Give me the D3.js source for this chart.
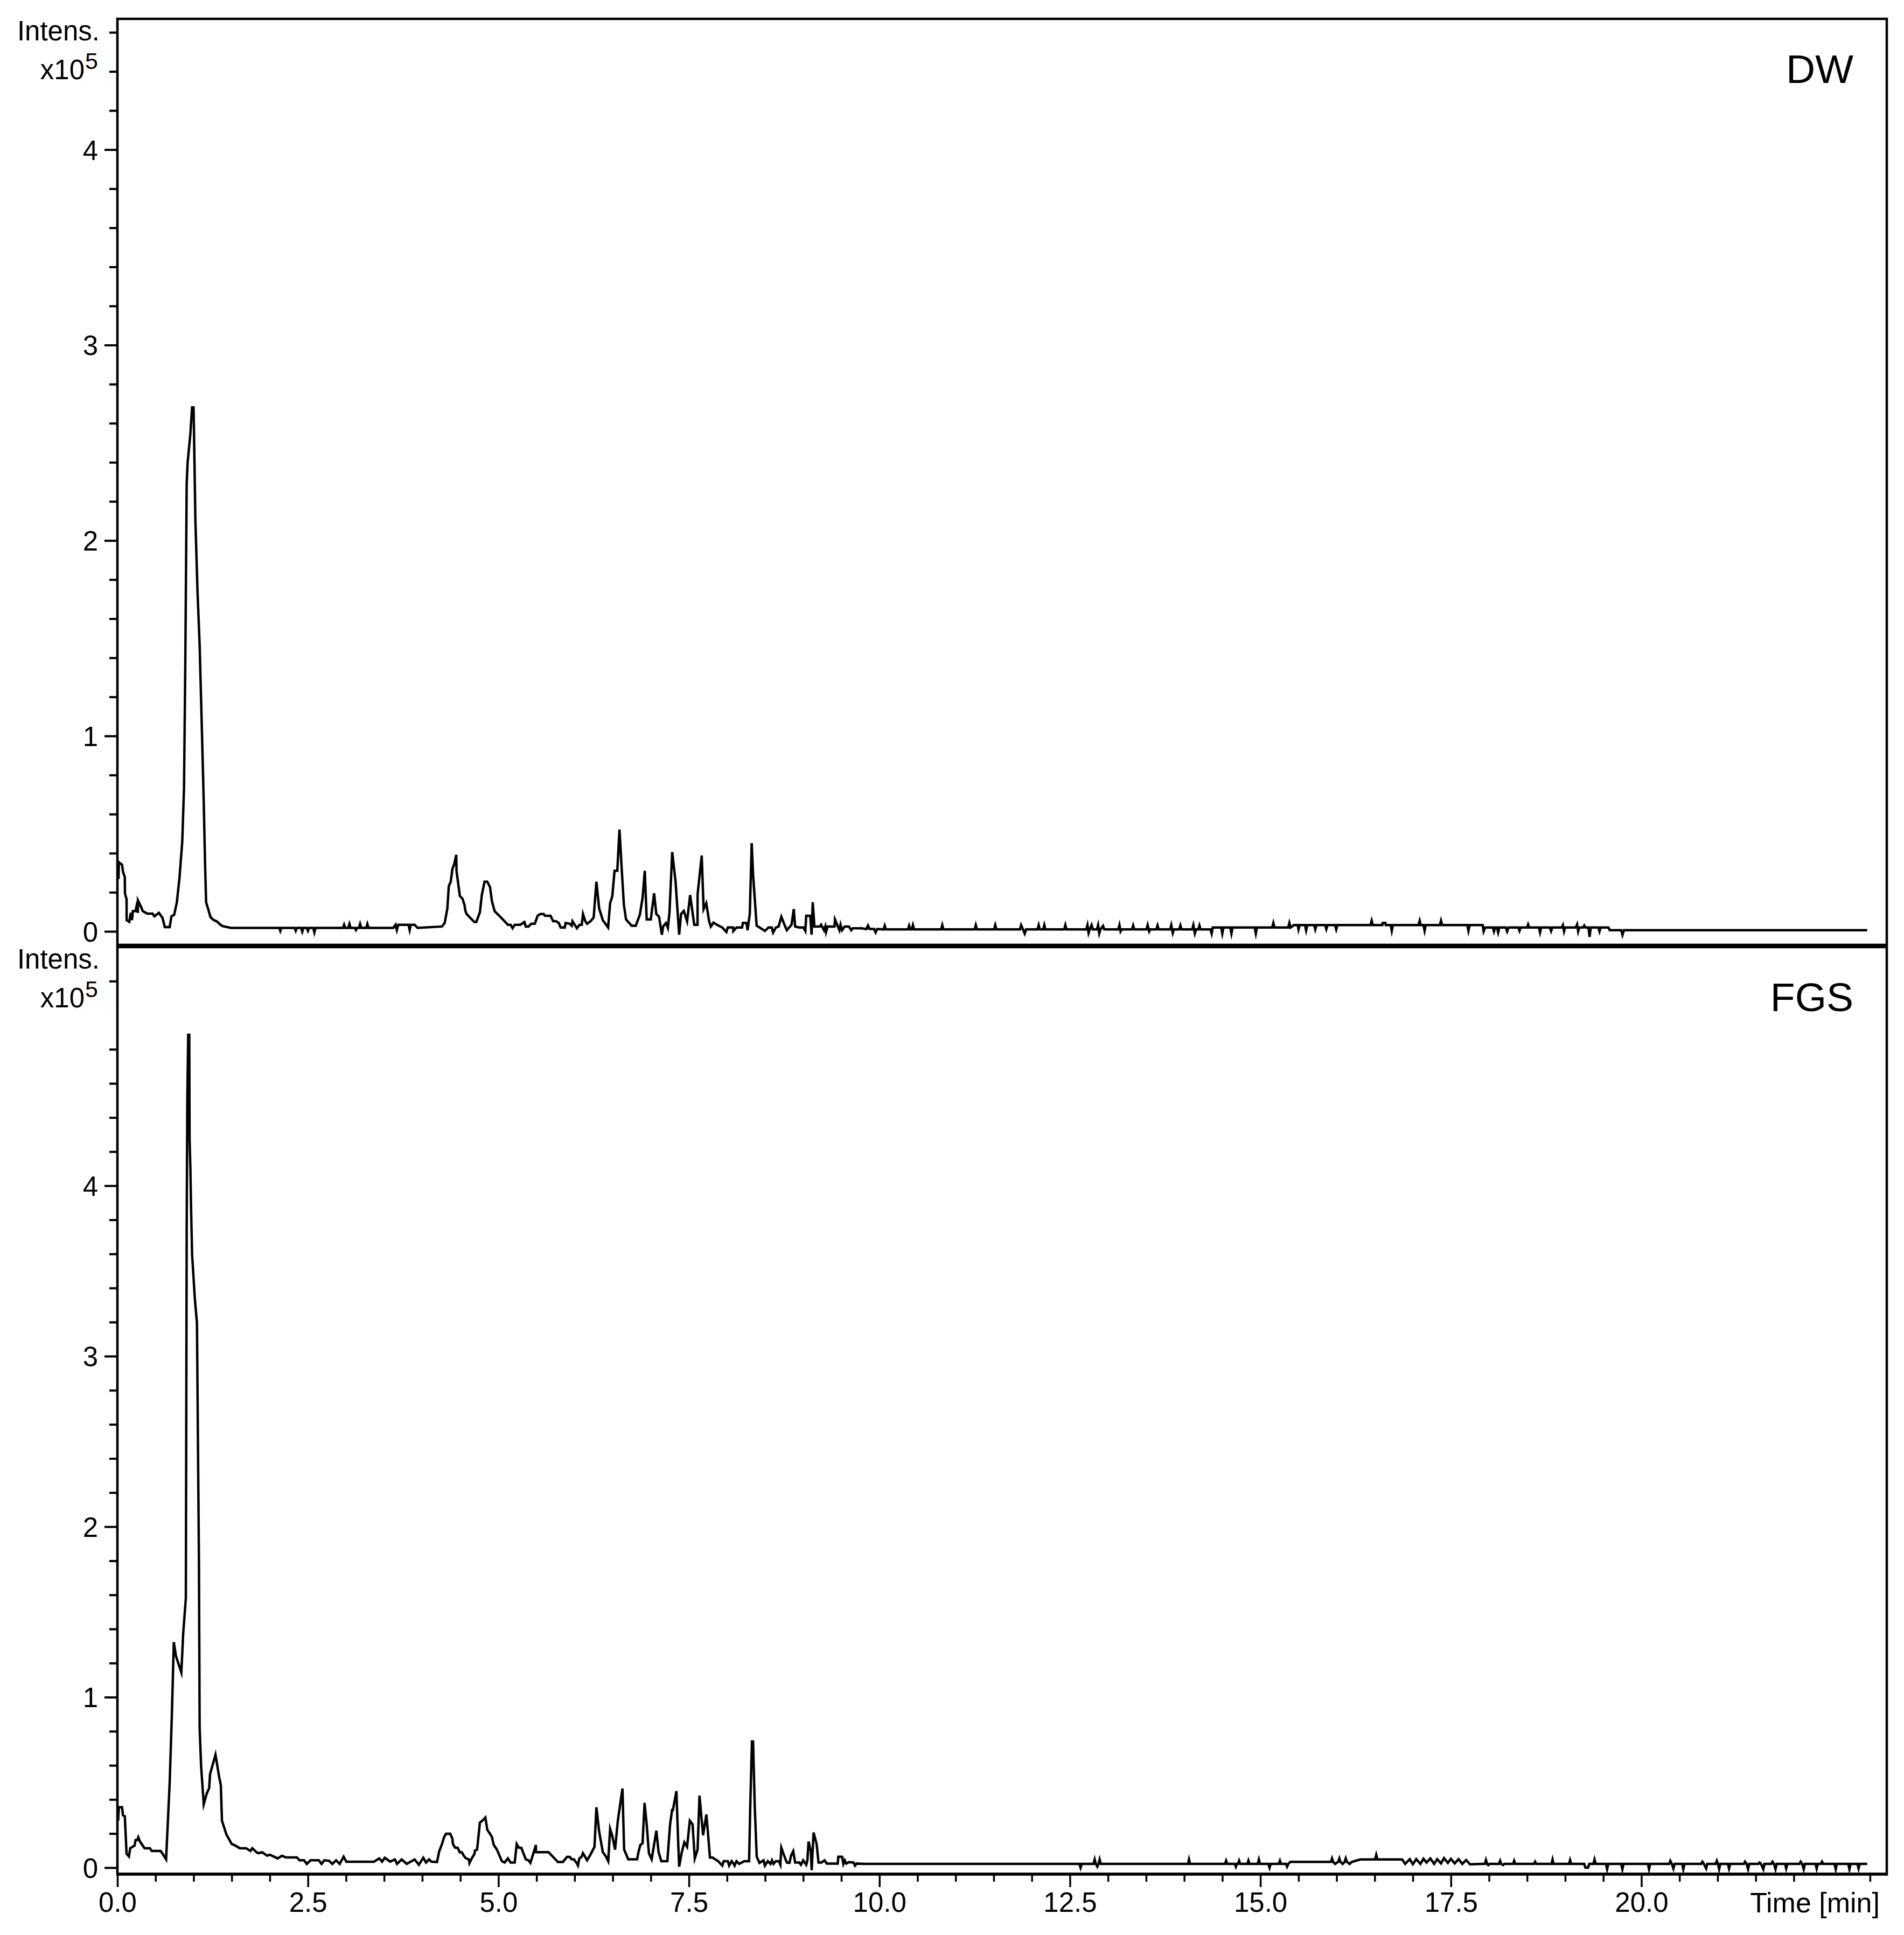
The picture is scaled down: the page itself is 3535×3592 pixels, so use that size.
<!DOCTYPE html>
<html lang="en">
<head>
<meta charset="utf-8">
<title>DW / FGS chromatograms</title>
<script src="https://cdnjs.cloudflare.com/ajax/libs/d3/7.8.5/d3.min.js"></script>
<style>
  body { margin: 0; background: #fff; }
  svg text { font-family: "Liberation Sans", Arial, sans-serif; fill: #000; }
</style>
</head>
<body>
<svg id="chart" width="3535" height="3592"></svg>
<script>
// retention time [min], intensity [x10^5]
var dwTrace = [
  [0.014,0.268],[0.019,0.354],[0.061,0.341],[0.073,0.305],[0.097,0.277],[0.099,0.195],[0.12,0.164],[0.121,0.058],
  [0.156,0.049],[0.175,0.095],[0.191,0.058],[0.203,0.104],[0.238,0.104],[0.25,0.127],[0.268,0.095],[0.27,0.158],
  [0.309,0.127],[0.332,0.104],[0.391,0.091],[0.462,0.091],[0.485,0.077],[0.544,0.095],[0.592,0.069],[0.622,0.022],
  [0.686,0.022],[0.709,0.077],[0.745,0.085],[0.78,0.149],[0.815,0.277],[0.851,0.46],[0.874,0.734],[0.891,1.374],
  [0.909,2.288],[0.921,2.398],[0.957,2.544],[0.98,2.681],[0.999,2.681],[1.004,2.58],[1.023,2.106],[1.051,1.74],
  [1.079,1.466],[1.11,1.009],[1.134,0.643],[1.15,0.35],[1.164,0.149],[1.192,0.113],[1.221,0.073],[1.263,0.058],
  [1.31,0.05],[1.346,0.036],[1.38,0.027],[1.49,0.018],[2.125,0.018],[2.138,0.003],[2.151,0.018],[2.325,0.018],
  [2.34,0.003],[2.355,0.018],[2.41,0.018],[2.426,-0.001],[2.44,0.018],[2.485,0.018],[2.5,0.003],[2.515,0.018],
  [2.57,0.018],[2.585,-0.005],[2.6,0.018],[2.96,0.018],[2.975,0.034],[2.99,0.018],[3.03,0.018],[3.045,0.038],
  [3.06,0.018],[3.115,0.018],[3.13,0.007],[3.145,0.018],[3.17,0.018],[3.185,0.038],[3.2,0.018],[3.265,0.018],
  [3.28,0.038],[3.295,0.018],[3.62,0.018],[3.65,0.034],[3.667,0.007],[3.685,0.034],[3.82,0.034],[3.835,0.007],
  [3.85,0.034],[3.9,0.034],[3.94,0.018],[4.259,0.025],[4.295,0.043],[4.33,0.117],[4.349,0.232],[4.374,0.254],
  [4.396,0.319],[4.421,0.346],[4.447,0.392],[4.45,0.31],[4.494,0.181],[4.529,0.167],[4.555,0.135],[4.565,0.107],
  [4.583,0.089],[4.638,0.066],[4.685,0.048],[4.71,0.048],[4.757,0.098],[4.782,0.186],[4.818,0.254],[4.854,0.254],
  [4.89,0.227],[4.915,0.154],[4.951,0.103],[5.034,0.071],[5.124,0.034],[5.16,0.034],[5.186,0.016],[5.214,0.034],
  [5.287,0.034],[5.341,0.048],[5.359,0.025],[5.395,0.025],[5.431,0.039],[5.478,0.039],[5.514,0.08],[5.55,0.089],
  [5.593,0.089],[5.611,0.08],[5.683,0.08],[5.719,0.052],[5.756,0.052],[5.792,0.043],[5.817,0.02],[5.871,0.02],
  [5.882,0.043],[5.936,0.039],[5.962,0.029],[5.972,0.052],[6.03,0.016],[6.065,0.034],[6.094,0.034],[6.11,0.089],
  [6.14,0.052],[6.164,0.039],[6.21,0.052],[6.25,0.071],[6.286,0.254],[6.322,0.117],[6.37,0.057],[6.44,0.02],
  [6.466,0.144],[6.495,0.181],[6.524,0.31],[6.56,0.31],[6.589,0.521],[6.618,0.319],[6.647,0.135],[6.675,0.061],
  [6.748,0.029],[6.802,0.029],[6.856,0.085],[6.892,0.172],[6.921,0.31],[6.946,0.061],[7.0,0.061],[7.043,0.195],
  [7.072,0.089],[7.108,0.075],[7.145,-0.017],[7.162,0.025],[7.198,0.043],[7.224,0.018],[7.245,0.098],[7.281,0.406],
  [7.325,0.254],[7.372,-0.017],[7.397,0.089],[7.433,0.105],[7.476,0.052],[7.487,0.089],[7.516,0.186],[7.57,0.034],
  [7.613,0.034],[7.614,0.19],[7.668,0.388],[7.693,0.114],[7.728,0.144],[7.765,0.052],[7.787,0.025],[7.822,0.045],
  [7.866,0.034],[7.938,0.02],[7.992,-0.003],[8.01,0.02],[8.082,0.02],[8.083,0.002],[8.125,0.02],[8.198,0.02],
  [8.208,0.043],[8.255,0.043],[8.27,0.006],[8.299,0.089],[8.324,0.452],[8.342,0.291],[8.389,0.029],[8.443,0.016],
  [8.497,0.002],[8.544,0.02],[8.587,0.02],[8.605,-0.006],[8.641,0.02],[8.677,0.025],[8.713,0.075],[8.749,0.039],
  [8.785,0.006],[8.847,0.034],[8.876,0.114],[8.894,0.025],[8.948,0.02],[9.002,0.02],[9.028,0.002],[9.039,0.08],
  [9.093,0.08],[9.11,-0.017],[9.125,0.149],[9.147,0.025],[9.219,0.025],[9.235,0.034],[9.273,0.006],[9.29,0.025],
  [9.3,-0.003],[9.32,0.025],[9.41,0.025],[9.417,0.061],[9.475,0.006],[9.49,0.034],[9.51,0.006],[9.544,0.025],
  [9.6,0.025],[9.63,0.006],[9.65,0.016],[9.77,0.016],[9.83,0.012],[9.85,0.03],[9.87,0.012],[9.93,0.012],
  [9.95,-0.005],[9.97,0.012],[10.055,0.01],[10.07,0.029],[10.085,0.01],[10.375,0.01],[10.39,0.029],[10.405,0.01],
  [10.425,0.01],[10.44,0.032],[10.455,0.01],[10.81,0.01],[10.825,0.032],[10.84,0.01],[11.25,0.01],[11.265,0.032],
  [11.28,0.01],[11.505,0.01],[11.52,0.032],[11.535,0.01],[11.845,0.01],[11.86,0.032],[11.885,0.01],[11.907,-0.011],
  [11.925,0.01],[12.075,0.01],[12.09,0.032],[12.105,0.01],[12.15,0.01],[12.164,0.032],[12.178,0.01],[12.425,0.01],
  [12.44,0.032],[12.455,0.01],[12.715,0.01],[12.73,0.032],[12.745,-0.008],[12.76,0.01],[12.785,0.032],[12.8,0.01],
  [12.855,0.01],[12.87,0.032],[12.885,-0.01],[12.9,0.01],[12.935,0.028],[12.95,0.01],[13.135,0.01],[13.15,0.032],
  [13.165,0.0],[13.18,0.01],[13.315,0.01],[13.33,0.03],[13.345,0.01],[13.505,0.01],[13.52,0.032],[13.54,0.0],
  [13.555,0.01],[13.635,0.01],[13.65,0.03],[13.665,0.01],[13.815,0.01],[13.83,0.032],[13.85,-0.008],[13.865,0.01],
  [13.935,0.01],[13.95,0.03],[13.965,0.01],[14.105,0.01],[14.12,0.032],[14.14,-0.01],[14.155,0.01],[14.185,0.01],
  [14.2,0.03],[14.215,0.01],[14.345,0.01],[14.36,-0.011],[14.375,0.02],[14.485,0.02],[14.5,-0.011],[14.515,0.02],
  [14.605,0.02],[14.62,-0.011],[14.635,0.02],[14.925,0.02],[14.94,-0.011],[14.955,0.02],[15.155,0.02],[15.17,0.043],
  [15.185,0.02],[15.365,0.02],[15.38,0.043],[15.395,0.02],[15.44,0.032],[15.49,0.032],[15.5,0.01],[15.515,0.032],
  [15.585,0.032],[15.6,0.005],[15.615,0.032],[15.705,0.032],[15.72,0.01],[15.735,0.032],[15.85,0.032],[15.865,0.012],
  [15.88,0.032],[15.98,0.032],[15.995,0.01],[16.01,0.032],[16.445,0.032],[16.46,0.055],[16.475,0.032],[16.6,0.032],
  [16.605,0.043],[16.64,0.043],[16.645,0.032],[16.71,0.032],[16.724,0.003],[16.738,0.032],[17.075,0.032],[17.09,0.055],
  [17.105,0.032],[17.14,0.032],[17.155,0.003],[17.17,0.032],[17.355,0.032],[17.37,0.055],[17.385,0.032],[17.715,0.032],
  [17.73,0.003],[17.745,0.032],[17.917,0.032],[17.93,0.0],[17.95,0.02],[18.05,0.02],[18.065,0.0],[18.08,0.02],
  [18.105,0.02],[18.12,-0.005],[18.135,0.02],[18.22,0.02],[18.238,0.0],[18.255,0.02],[18.385,0.02],[18.4,0.003],
  [18.415,0.02],[18.5,0.02],[18.513,0.035],[18.526,0.02],[18.655,0.02],[18.67,-0.005],[18.685,0.02],[18.8,0.02],
  [18.815,0.002],[18.83,0.02],[18.955,0.02],[18.97,0.032],[18.985,0.0],[19.0,0.02],[19.14,0.02],[19.156,0.035],
  [19.17,0.0],[19.185,0.02],[19.235,0.02],[19.25,0.03],[19.265,0.02],[19.305,0.02],[19.32,-0.028],[19.335,0.02],
  [19.435,0.02],[19.45,0.0],[19.465,0.02],[19.568,0.02],[19.585,0.006],[19.735,0.006],[19.752,-0.018],[19.77,0.006],
  [22.963,0.006]
];

var fgsTrace = [
  [0.009,0.275],[0.019,0.355],[0.061,0.355],[0.073,0.307],[0.097,0.302],[0.12,0.082],[0.151,0.066],[0.168,0.114],
  [0.226,0.13],[0.238,0.162],[0.262,0.162],[0.274,0.178],[0.297,0.152],[0.356,0.114],[0.427,0.114],[0.45,0.098],
  [0.568,0.098],[0.592,0.082],[0.639,0.049],[0.686,0.5],[0.716,0.919],[0.74,1.323],[0.768,1.242],[0.839,1.145],
  [0.863,1.371],[0.898,1.581],[0.905,2.919],[0.909,3.725],[0.917,4.499],[0.929,4.885],[0.943,4.885],[0.947,4.273],
  [0.957,4.112],[0.969,3.821],[0.98,3.596],[1.016,3.338],[1.044,3.193],[1.058,2.435],[1.07,1.79],[1.079,0.823],
  [1.098,0.597],[1.133,0.372],[1.173,0.436],[1.204,0.466],[1.216,0.549],[1.287,0.662],[1.334,0.535],[1.357,0.484],
  [1.372,0.275],[1.431,0.194],[1.5,0.139],[1.546,0.13],[1.605,0.114],[1.687,0.114],[1.746,0.098],[1.77,0.114],
  [1.829,0.089],[1.85,0.085],[1.9,0.09],[1.965,0.07],[2.0,0.076],[2.102,0.054],[2.16,0.07],[2.21,0.06],
  [2.355,0.06],[2.39,0.043],[2.45,0.043],[2.485,0.022],[2.535,0.043],[2.643,0.043],[2.679,0.022],[2.714,0.043],
  [2.78,0.04],[2.82,0.022],[2.87,0.043],[2.917,0.022],[2.968,0.064],[3.004,0.035],[3.366,0.035],[3.436,0.054],
  [3.473,0.035],[3.509,0.058],[3.58,0.035],[3.642,0.048],[3.67,0.022],[3.73,0.048],[3.797,0.022],[3.9,0.048],
  [3.956,0.017],[4.014,0.058],[4.05,0.03],[4.09,0.048],[4.12,0.035],[4.194,0.033],[4.223,0.096],[4.259,0.138],
  [4.288,0.18],[4.313,0.199],[4.367,0.199],[4.396,0.17],[4.403,0.138],[4.432,0.117],[4.465,0.117],[4.493,0.09],
  [4.52,0.09],[4.547,0.069],[4.576,0.054],[4.612,0.049],[4.62,0.027],[4.656,0.059],[4.685,0.08],[4.692,0.1],
  [4.72,0.106],[4.757,0.264],[4.8,0.28],[4.829,0.294],[4.854,0.222],[4.879,0.206],[4.915,0.18],[4.937,0.135],
  [4.98,0.106],[5.016,0.069],[5.045,0.038],[5.081,0.03],[5.124,0.054],[5.16,0.03],[5.214,0.03],[5.24,0.138],
  [5.268,0.117],[5.3,0.117],[5.359,0.049],[5.395,0.043],[5.42,0.028],[5.492,0.133],[5.493,0.091],[5.658,0.091],
  [5.781,0.033],[5.846,0.033],[5.9,0.063],[5.936,0.063],[5.961,0.049],[5.99,0.049],[6.026,0.028],[6.044,0.012],
  [6.062,0.054],[6.091,0.063],[6.109,0.085],[6.13,0.07],[6.164,0.043],[6.2,0.07],[6.261,0.122],[6.286,0.354],
  [6.322,0.212],[6.37,0.091],[6.405,0.07],[6.441,0.038],[6.466,0.227],[6.495,0.185],[6.531,0.106],[6.567,0.275],
  [6.628,0.464],[6.65,0.106],[6.704,0.049],[6.82,0.049],[6.838,0.091],[6.863,0.133],[6.892,0.143],[6.918,0.38],
  [6.946,0.254],[6.975,0.085],[7.011,0.049],[7.073,0.217],[7.102,0.091],[7.138,0.038],[7.217,0.038],[7.253,0.254],
  [7.279,0.338],[7.29,0.338],[7.336,0.449],[7.361,0.127],[7.372,0.006],[7.404,0.085],[7.44,0.149],[7.476,0.122],
  [7.512,0.275],[7.548,0.254],[7.577,0.054],[7.614,0.106],[7.639,0.422],[7.686,0.19],[7.729,0.312],[7.747,0.22],
  [7.776,0.059],[7.81,0.059],[7.884,0.038],[7.938,0.012],[7.956,0.038],[8.01,0.038],[8.028,0.012],[8.06,0.038],
  [8.08,0.028],[8.1,0.012],[8.125,0.038],[8.16,0.022],[8.226,0.038],[8.29,0.038],[8.305,0.36],[8.327,0.74],
  [8.342,0.74],[8.364,0.36],[8.39,0.064],[8.426,0.028],[8.48,0.043],[8.497,0.012],[8.535,0.038],[8.57,0.022],
  [8.59,0.043],[8.61,0.022],[8.64,0.038],[8.68,0.038],[8.7,0.017],[8.713,0.117],[8.75,0.07],[8.785,0.03],
  [8.82,0.028],[8.84,0.07],[8.869,0.097],[8.894,0.03],[8.95,0.03],[8.97,0.017],[9.0,0.043],[9.04,0.017],
  [9.055,0.043],[9.07,0.153],[9.1,0.096],[9.111,-0.015],[9.136,0.206],[9.176,0.138],[9.201,0.03],[9.24,0.03],
  [9.28,0.043],[9.31,0.024],[9.453,0.024],[9.46,0.064],[9.51,0.064],[9.527,0.022],[9.545,0.043],[9.565,0.024],
  [9.6,0.032],[9.66,0.03],[9.68,0.012],[9.7,0.024],[9.8,0.022],[12.625,0.022],[12.64,0.0],[12.655,0.022],
  [12.81,0.022],[12.825,0.048],[12.84,0.022],[12.86,0.006],[12.875,0.022],[12.89,0.048],[12.905,0.022],[14.05,0.022],
  [14.063,0.048],[14.076,0.022],[14.535,0.022],[14.55,0.041],[14.565,0.022],[14.665,0.022],[14.678,0.006],[14.69,0.022],
  [14.705,0.022],[14.72,0.041],[14.735,0.022],[14.83,0.022],[14.843,0.041],[14.856,0.022],[14.965,0.022],[14.98,0.048],
  [14.995,0.022],[15.105,0.022],[15.12,0.0],[15.135,0.022],[15.24,0.022],[15.256,0.041],[15.27,0.022],[15.335,0.022],
  [15.35,0.006],[15.365,0.022],[15.394,0.034],[15.925,0.034],[15.94,0.054],[15.955,0.034],[15.98,0.022],[16.02,0.034],
  [16.036,0.054],[16.05,0.034],[16.08,0.022],[16.105,0.034],[16.12,0.054],[16.135,0.034],[16.17,0.022],[16.2,0.034],
  [16.31,0.048],[16.505,0.048],[16.52,0.075],[16.535,0.048],[16.86,0.048],[16.9,0.022],[16.96,0.05],[17.0,0.02],
  [17.045,0.05],[17.1,0.022],[17.14,0.052],[17.18,0.03],[17.23,0.054],[17.28,0.022],[17.32,0.05],[17.37,0.025],
  [17.41,0.056],[17.46,0.028],[17.5,0.052],[17.55,0.025],[17.6,0.05],[17.65,0.022],[17.7,0.045],[17.75,0.02],
  [17.917,0.022],[17.945,0.022],[17.96,0.045],[17.975,0.022],[17.99,0.015],[18.005,0.022],[18.13,0.022],[18.146,0.04],
  [18.16,0.022],[18.185,0.015],[18.2,0.022],[18.315,0.022],[18.33,0.04],[18.345,0.022],[18.59,0.022],[18.605,0.035],
  [18.62,0.022],[18.82,0.022],[18.834,0.048],[18.848,0.022],[19.05,0.022],[19.064,0.044],[19.078,0.022],[19.25,0.022],
  [19.265,0.0],[19.3,0.0],[19.315,0.022],[19.37,0.022],[19.385,0.048],[19.4,0.022],[19.535,0.022],[19.55,-0.009],
  [19.565,0.022],[19.735,0.022],[19.75,-0.009],[19.765,0.022],[20.085,0.022],[20.1,-0.009],[20.115,0.022],[20.365,0.022],
  [20.38,0.04],[20.4,0.022],[20.42,-0.005],[20.435,0.022],[20.535,0.022],[20.55,-0.009],[20.565,0.022],[20.785,0.022],
  [20.8,0.035],[20.82,0.022],[20.85,-0.005],[20.865,0.022],[20.975,0.022],[20.99,0.04],[21.005,0.022],[21.02,-0.009],
  [21.035,0.022],[21.135,0.022],[21.15,-0.005],[21.165,0.022],[21.345,0.022],[21.36,0.035],[21.38,0.022],[21.4,-0.009],
  [21.415,0.022],[21.535,0.022],[21.55,0.03],[21.57,0.022],[21.6,-0.009],[21.615,0.022],[21.705,0.022],[21.72,0.035],
  [21.74,0.022],[21.76,-0.009],[21.775,0.022],[21.885,0.022],[21.9,-0.005],[21.915,0.022],[22.075,0.022],[22.09,0.035],
  [22.11,0.022],[22.13,-0.009],[22.145,0.022],[22.285,0.022],[22.3,-0.006],[22.315,0.022],[22.355,0.022],[22.37,0.035],
  [22.385,0.022],[22.535,0.022],[22.55,-0.009],[22.565,0.022],[22.715,0.022],[22.73,-0.009],[22.745,0.022],[22.835,0.022],
  [22.85,-0.005],[22.865,0.022],[22.963,0.022]
];

var panelNames = ["DW", "FGS"];
var xTickLabels = ["0.0", "2.5", "5.0", "7.5", "10.0", "12.5", "15.0", "17.5", "20.0"];
var yTickLabels = ["0", "1", "2", "3", "4"];
var yMinorTop = [4.6, 5.2];   // last minor tick in each panel
var yDomainTop = [-0.069, 4.669];
var yDomainBottom = [-0.038, 5.40];
var xDomain = [0, 23.22];

var svg = d3.select("#chart");
var left = 218, right = 3503;
var panels = [
  { name: panelNames[0], data: dwTrace, top: 35, bottom: 1754, dom: yDomainTop, lastMinor: yMinorTop[0] },
  { name: panelNames[1], data: fgsTrace, top: 1758, bottom: 3479, dom: yDomainBottom, lastMinor: yMinorTop[1] }
];

var x = d3.scaleLinear().domain(xDomain).range([left, right]);

panels.forEach(function(p, i) {
  var y = d3.scaleLinear().domain(p.dom).range([p.bottom, p.top]);
  var g = svg.append("g");

  // minor ticks every 0.2
  var minor = d3.range(0, p.lastMinor + 0.01, 0.2).filter(function(v) { return Math.abs(v - Math.round(v)) > 0.01; });
  g.append("g")
    .attr("transform", "translate(" + left + ",0)")
    .call(d3.axisLeft(y).tickValues(minor).tickSize(15).tickFormat(""))
    .call(function(a) {
      a.select(".domain").remove();
      a.selectAll("line").attr("stroke", "#000").attr("stroke-width", 4);
    });

  // major ticks with labels
  g.append("g")
    .attr("transform", "translate(" + left + ",0)")
    .call(d3.axisLeft(y).tickValues(yTickLabels.map(Number)).tickSize(24).tickPadding(12)
      .tickFormat(function(d, k) { return yTickLabels[k]; }))
    .call(function(a) {
      a.select(".domain").remove();
      a.selectAll("line").attr("stroke", "#000").attr("stroke-width", 4);
      a.selectAll("text").attr("font-size", 51).attr("font-family", "Liberation Sans, Arial, sans-serif")
        .attr("fill", "#000").attr("dy", "0.36em");
    });

  // trace
  var line = d3.line().x(function(d) { return x(d[0]); }).y(function(d) { return y(d[1]); });
  g.append("path")
    .datum(p.data)
    .attr("d", line)
    .attr("fill", "none")
    .attr("stroke", "#000")
    .attr("stroke-width", 4.5)
    .attr("stroke-linejoin", "miter")
    .attr("stroke-miterlimit", 6);

  // frame
  g.append("rect")
    .attr("x", left).attr("y", p.top)
    .attr("width", right - left).attr("height", p.bottom - p.top)
    .attr("fill", "none").attr("stroke", "#000").attr("stroke-width", 4.5);

  // y label
  var lab = g.append("g").attr("font-size", 51);
  lab.append("text").attr("x", 185).attr("y", p.top + 40).attr("text-anchor", "end").text("Intens.");
  lab.append("text").attr("x", 157).attr("y", p.top + 112).attr("text-anchor", "end").text("x10");
  lab.append("text").attr("x", 158).attr("y", p.top + 93).attr("font-size", 43).text("5");

  // sample name
  g.append("text").attr("x", 3441).attr("y", p.top + 119).attr("text-anchor", "end")
    .attr("font-size", 75).text(p.name);
});

// x axis (bottom panel only)
var xMinor = d3.range(0, 23.01, 0.5).filter(function(v) { return Math.abs(v / 2.5 - Math.round(v / 2.5)) > 0.01; });
svg.append("g")
  .attr("transform", "translate(0,3479)")
  .call(d3.axisBottom(x).tickValues(xMinor).tickSize(14).tickFormat(""))
  .call(function(a) {
    a.select(".domain").remove();
    a.selectAll("line").attr("stroke", "#000").attr("stroke-width", 3.5);
  });
svg.append("g")
  .attr("transform", "translate(0,3479)")
  .call(d3.axisBottom(x).tickValues(xTickLabels.map(Number)).tickSize(24).tickPadding(10)
    .tickFormat(function(d, k) { return xTickLabels[k]; }))
  .call(function(a) {
    a.select(".domain").remove();
    a.selectAll("line").attr("stroke", "#000").attr("stroke-width", 3.5);
    a.selectAll("text").attr("font-size", 51).attr("font-family", "Liberation Sans, Arial, sans-serif")
      .attr("fill", "#000").attr("dy", "0.71em");
  });
svg.append("line")
  .attr("x1", left - 2).attr("x2", right + 2).attr("y1", 3479).attr("y2", 3479)
  .attr("stroke", "#000").attr("stroke-width", 5.5);

svg.append("text").attr("x", 3490).attr("y", 3550).attr("text-anchor", "end")
  .attr("font-size", 52).text("Time [min]");
</script>
</body>
</html>
